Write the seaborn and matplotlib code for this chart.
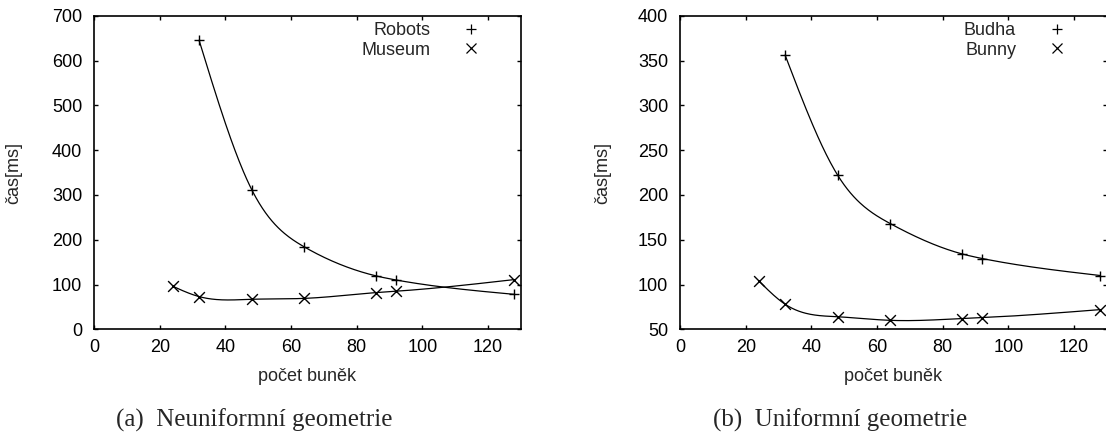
import numpy as np
import pandas as pd
import seaborn as sns
import matplotlib
matplotlib.use("Agg")
import matplotlib.pyplot as plt
from matplotlib.lines import Line2D

# ---- data ----
robots_x = [32, 48, 64, 86, 92, 128]
robots_y = [645, 312, 184, 119, 110, 78]
museum_x = [24, 32, 48, 64, 86, 92, 128]
museum_y = [96, 73, 67, 69, 82, 85, 111]

budha_x = [32, 48, 64, 86, 92, 128]
budha_y = [356, 222, 168, 134, 129, 110]
bunny_x = [24, 32, 48, 64, 86, 92, 128]
bunny_y = [104, 78, 64, 60, 62, 63, 72]

left_yticks = [0, 100, 200, 300, 400, 500, 600, 700]
right_yticks = [50, 100, 150, 200, 250, 300, 350, 400]
xticks = [0, 20, 40, 60, 80, 100, 120]

xlabel = "počet buněk"
ylabel = "čas[ms]"
captions = ["(a)  Neuniformní geometrie", "(b)  Uniformní geometrie"]


def natural_spline(x, y, n=300):
    """Natural cubic spline (like gnuplot 'smooth csplines')."""
    x = np.asarray(x, float)
    y = np.asarray(y, float)
    m = len(x)
    h = np.diff(x)
    A = np.zeros((m, m))
    r = np.zeros(m)
    A[0, 0] = 1
    A[-1, -1] = 1
    for i in range(1, m - 1):
        A[i, i - 1] = h[i - 1]
        A[i, i] = 2 * (h[i - 1] + h[i])
        A[i, i + 1] = h[i]
        r[i] = 6 * ((y[i + 1] - y[i]) / h[i] - (y[i] - y[i - 1]) / h[i - 1])
    M = np.linalg.solve(A, r)
    xs = np.linspace(x[0], x[-1], n)
    idx = np.clip(np.searchsorted(x, xs) - 1, 0, m - 2)
    x0, x1 = x[idx], x[idx + 1]
    hh = x1 - x0
    a = (x1 - xs) / hh
    b = (xs - x0) / hh
    ys = a * y[idx] + b * y[idx + 1] + ((a ** 3 - a) * M[idx] + (b ** 3 - b) * M[idx + 1]) * hh ** 2 / 6
    return xs, ys


sns.set_theme(style="ticks")
plt.rcParams["font.family"] = ["Liberation Sans", "DejaVu Sans"]
plt.rcParams["font.size"] = 13
plt.rcParams["axes.linewidth"] = 1.2

FS = 13
fig = plt.figure(figsize=(11.06, 4.34), dpi=100)
W, H = 1106, 434
ax_l = fig.add_axes([94 / W, 1 - 329.3 / H, 427 / W, (329.3 - 15.7) / H])
ax_r = fig.add_axes([680 / W, 1 - 329.3 / H, 427 / W, (329.3 - 15.7) / H])

panels = [
    (ax_l, (robots_x, robots_y, "Robots"), (museum_x, museum_y, "Museum"), (0, 700), left_yticks, -0.168),
    (ax_r, (budha_x, budha_y, "Budha"), (bunny_x, bunny_y, "Bunny"), (50, 400), right_yticks, -0.160),
]

for ax, s1, s2, ylim, yt, ylx in panels:
    handles = []
    for (xs, ys, name), mk in ((s1, "+"), (s2, "x")):
        sx, sy = natural_spline(xs, ys)
        sns.lineplot(x=sx, y=sy, ax=ax, color="black", linewidth=0.9, sort=False, estimator=None)
        sns.scatterplot(x=xs, y=ys, ax=ax, marker=mk, color="black", s=60, linewidth=1.0, zorder=3)
        handles.append(Line2D([], [], linestyle="none", marker=mk, color="black",
                              markersize=7.5, markeredgewidth=0.9, label=name))
    ax.set_xlim(0, 130)
    ax.set_ylim(*ylim)
    ax.set_xticks(xticks)
    ax.set_yticks(yt)
    ax.tick_params(axis="both", which="both", direction="in", length=3, width=1.0,
                   top=True, right=True, labelsize=FS, colors="black")
    ax.tick_params(axis="x", pad=7)
    ax.tick_params(axis="y", pad=8.5)
    for sp in ax.spines.values():
        sp.set_visible(True)
        sp.set_color("black")
        sp.set_linewidth(1.2)
    ax.set_xlabel(xlabel, fontsize=FS)
    ax.set_ylabel(ylabel, fontsize=FS)
    ax.xaxis.set_label_coords(0.5, -0.122)
    ax.yaxis.set_label_coords(ylx, 0.5)
    ax.legend(handles=handles, loc="upper right", bbox_to_anchor=(0.914, 0.980),
              frameon=False, markerfirst=False, fontsize=FS, handlelength=1.5,
              handletextpad=1.5, labelspacing=0.15, borderpad=0, borderaxespad=0)

for cx, cap in ((254, captions[0]), (840, captions[1])):
    fig.text(cx / W, 1 - 420 / H, cap, ha="center", va="center",
             fontsize=18, family=["Liberation Serif", "DejaVu Serif"])

fig.savefig("out.png", dpi=100)
